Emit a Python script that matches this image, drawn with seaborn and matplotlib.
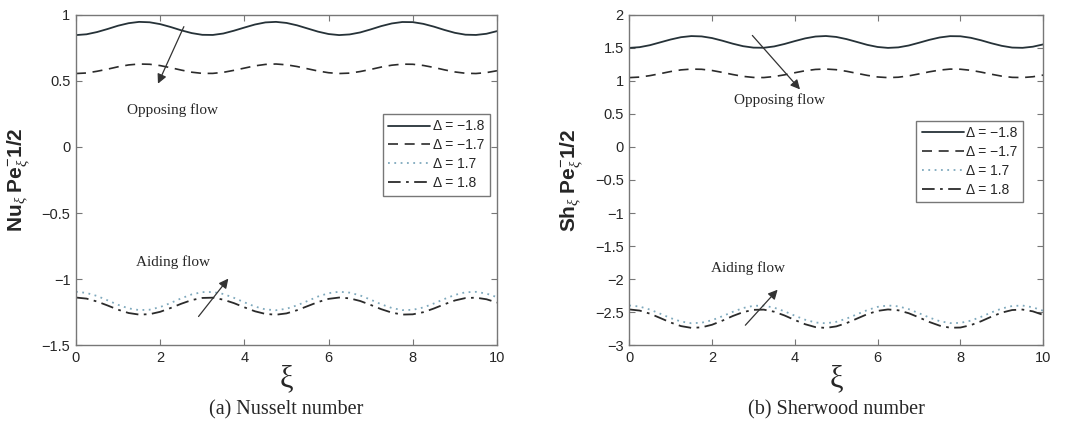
import numpy as np
import pandas as pd
import matplotlib
matplotlib.use("Agg")
import matplotlib.pyplot as plt
import seaborn as sns

# values (xi step 0.25)
xi = [i * 0.25 for i in range(41)]

nu_m18 = [0.847, 0.853, 0.870, 0.893, 0.918, 0.937, 0.947, 0.944, 0.930, 0.908,
          0.883, 0.862, 0.849, 0.848, 0.859, 0.880, 0.904, 0.927, 0.943, 0.947,
          0.939, 0.921, 0.897, 0.873, 0.855, 0.847, 0.852, 0.867, 0.890, 0.915,
          0.935, 0.946, 0.945, 0.932, 0.911, 0.886, 0.864, 0.850, 0.848, 0.857, 0.877]
nu_m17 = [0.556, 0.560, 0.573, 0.589, 0.607, 0.621, 0.628, 0.626, 0.616, 0.600,
          0.582, 0.566, 0.557, 0.557, 0.565, 0.580, 0.597, 0.614, 0.625, 0.628,
          0.622, 0.609, 0.592, 0.575, 0.562, 0.556, 0.559, 0.571, 0.587, 0.605,
          0.619, 0.627, 0.626, 0.617, 0.602, 0.584, 0.568, 0.558, 0.556, 0.563, 0.577]
nu_p17 = [-1.096, -1.105, -1.128, -1.161, -1.195, -1.222, -1.235, -1.232, -1.212, -1.181,
          -1.146, -1.116, -1.099, -1.098, -1.113, -1.142, -1.176, -1.208, -1.230, -1.236,
          -1.225, -1.199, -1.166, -1.132, -1.107, -1.096, -1.103, -1.124, -1.156, -1.191,
          -1.219, -1.235, -1.233, -1.215, -1.185, -1.151, -1.120, -1.100, -1.097, -1.110, -1.137]
nu_p18 = [-1.140, -1.148, -1.170, -1.200, -1.232, -1.257, -1.269, -1.266, -1.248, -1.219,
          -1.187, -1.159, -1.143, -1.141, -1.156, -1.182, -1.214, -1.244, -1.264, -1.270,
          -1.260, -1.236, -1.205, -1.174, -1.150, -1.140, -1.146, -1.166, -1.196, -1.228,
          -1.254, -1.269, -1.267, -1.251, -1.223, -1.191, -1.162, -1.144, -1.141, -1.153, -1.178]

sh_m18 = [1.500, 1.511, 1.541, 1.584, 1.627, 1.662, 1.679, 1.674, 1.649, 1.609,
          1.564, 1.526, 1.504, 1.502, 1.522, 1.559, 1.603, 1.644, 1.672, 1.680,
          1.666, 1.633, 1.590, 1.546, 1.514, 1.500, 1.508, 1.536, 1.578, 1.622,
          1.658, 1.678, 1.676, 1.653, 1.615, 1.570, 1.531, 1.505, 1.501, 1.518, 1.553]
sh_m17 = [1.050, 1.058, 1.080, 1.110, 1.142, 1.167, 1.179, 1.176, 1.158, 1.129,
          1.097, 1.069, 1.053, 1.051, 1.066, 1.092, 1.124, 1.154, 1.174, 1.180,
          1.170, 1.146, 1.115, 1.084, 1.060, 1.050, 1.056, 1.076, 1.106, 1.138,
          1.164, 1.179, 1.177, 1.161, 1.133, 1.101, 1.072, 1.054, 1.051, 1.063, 1.088]
sh_p17 = [-2.400, -2.416, -2.462, -2.525, -2.591, -2.643, -2.669, -2.661, -2.623, -2.563,
          -2.497, -2.439, -2.405, -2.403, -2.433, -2.488, -2.555, -2.616, -2.658, -2.670,
          -2.648, -2.599, -2.534, -2.470, -2.421, -2.400, -2.413, -2.455, -2.517, -2.583,
          -2.638, -2.667, -2.664, -2.630, -2.572, -2.505, -2.446, -2.408, -2.401, -2.428, -2.480]
sh_p18 = [-2.460, -2.477, -2.524, -2.590, -2.658, -2.712, -2.739, -2.731, -2.692, -2.630,
          -2.560, -2.501, -2.466, -2.463, -2.494, -2.551, -2.620, -2.684, -2.728, -2.740,
          -2.717, -2.667, -2.599, -2.532, -2.482, -2.460, -2.473, -2.517, -2.581, -2.650,
          -2.706, -2.737, -2.734, -2.698, -2.639, -2.569, -2.508, -2.469, -2.462, -2.489, -2.543]

legend_labels = ['Δ = −1.8', 'Δ = −1.7', 'Δ = 1.7', 'Δ = 1.8']

sns.set_style('ticks')
plt.rcParams['font.family'] = ['Liberation Sans', 'DejaVu Sans']
plt.rcParams['mathtext.fontset'] = 'custom'
plt.rcParams['mathtext.rm'] = 'Liberation Sans'
plt.rcParams['mathtext.bf'] = 'Liberation Sans:bold'
plt.rcParams['mathtext.it'] = 'Liberation Serif:italic'

line_styles = [
    dict(color='#263238', linestyle='-', linewidth=1.3),
    dict(color='#2b2b2b', linestyle=(0, (6, 4)), linewidth=1.2),
    dict(color='#7fa9bd', linestyle=(0, (1, 2.5)), linewidth=1.3),
    dict(color='#2b2b2b', linestyle=(0, (7, 3, 1.5, 3)), linewidth=1.3),
]

fig = plt.figure(figsize=(10.67, 4.25), dpi=100)
ax1 = fig.add_axes([0.0712, 0.188, 0.3946, 0.777])
ax2 = fig.add_axes([0.5897, 0.188, 0.388, 0.777])


def draw_panel(ax, series, ylim, yticks, ylabel, caption, opp, aid, leg_anchor):
    for vals, lab, st in zip(series, legend_labels, line_styles):
        df = pd.DataFrame({'xi': xi, 'val': vals})
        sns.lineplot(data=df, x='xi', y='val', ax=ax, label=lab, **st)
    ax.set_xlim(0, 10)
    ax.set_ylim(*ylim)
    ax.set_xticks([0, 2, 4, 6, 8, 10])
    ax.set_yticks(yticks)
    ax.set_yticklabels([('%g' % t).replace('-', '−') for t in yticks])
    ax.tick_params(direction='in', top=True, right=True, length=4,
                   labelsize=10.5, color='#777777', pad=4)
    for s in ax.spines.values():
        s.set_color('#777777')
        s.set_linewidth(1.0)
    ax.set_xlabel('ξ', fontsize=22, family='Liberation Serif', labelpad=0)
    ax.set_ylabel(ylabel, fontsize=15, labelpad=6)
    ax.text(0.5, -0.197, caption, transform=ax.transAxes, ha='center', va='center',
            fontsize=14.5, family='Liberation Serif')
    # annotations
    ax.annotate('', xy=opp[1], xytext=opp[0],
                arrowprops=dict(arrowstyle='-|>', color='#333333', lw=0.9,
                                mutation_scale=14))
    ax.text(opp[2][0], opp[2][1], 'Opposing flow', ha='center', va='center',
            fontsize=11, family='Liberation Serif')
    ax.annotate('', xy=aid[1], xytext=aid[0],
                arrowprops=dict(arrowstyle='-|>', color='#333333', lw=0.9,
                                mutation_scale=14))
    ax.text(aid[2][0], aid[2][1], 'Aiding flow', ha='center', va='center',
            fontsize=11, family='Liberation Serif')
    leg = ax.legend(loc='upper right', bbox_to_anchor=leg_anchor, fontsize=10,
                    handlelength=3.0, handletextpad=0.2, borderpad=0.4,
                    borderaxespad=0, labelspacing=0.35, fancybox=False,
                    framealpha=1, edgecolor='#777777')
    leg.get_frame().set_linewidth(1.0)


draw_panel(ax1, [nu_m18, nu_m17, nu_p17, nu_p18], (-1.5, 1),
           [-1.5, -1, -0.5, 0, 0.5, 1],
           r'$\mathbf{Nu}_{\xi}\ \mathbf{Pe}_{\xi}^{-}\mathbf{1/2}$',
           '(a) Nusselt number',
           ((2.59, 0.93), (1.92, 0.46), (2.3, 0.28)),
           ((2.87, -1.30), (3.66, -0.98), (2.3, -0.87)),
           (0.983, 0.70))

draw_panel(ax2, [sh_m18, sh_m17, sh_p17, sh_p18], (-3, 2),
           [-3, -2.5, -2, -1.5, -1, -0.5, 0, 0.5, 1, 1.5, 2],
           r'$\mathbf{Sh}_{\xi}\ \mathbf{Pe}_{\xi}^{-}\mathbf{1/2}$',
           '(b) Sherwood number',
           ((2.93, 1.72), (4.17, 0.84), (3.64, 0.71)),
           ((2.76, -2.73), (3.63, -2.13), (2.88, -1.84)),
           (0.952, 0.68))

plt.savefig('out.png', dpi=100)
